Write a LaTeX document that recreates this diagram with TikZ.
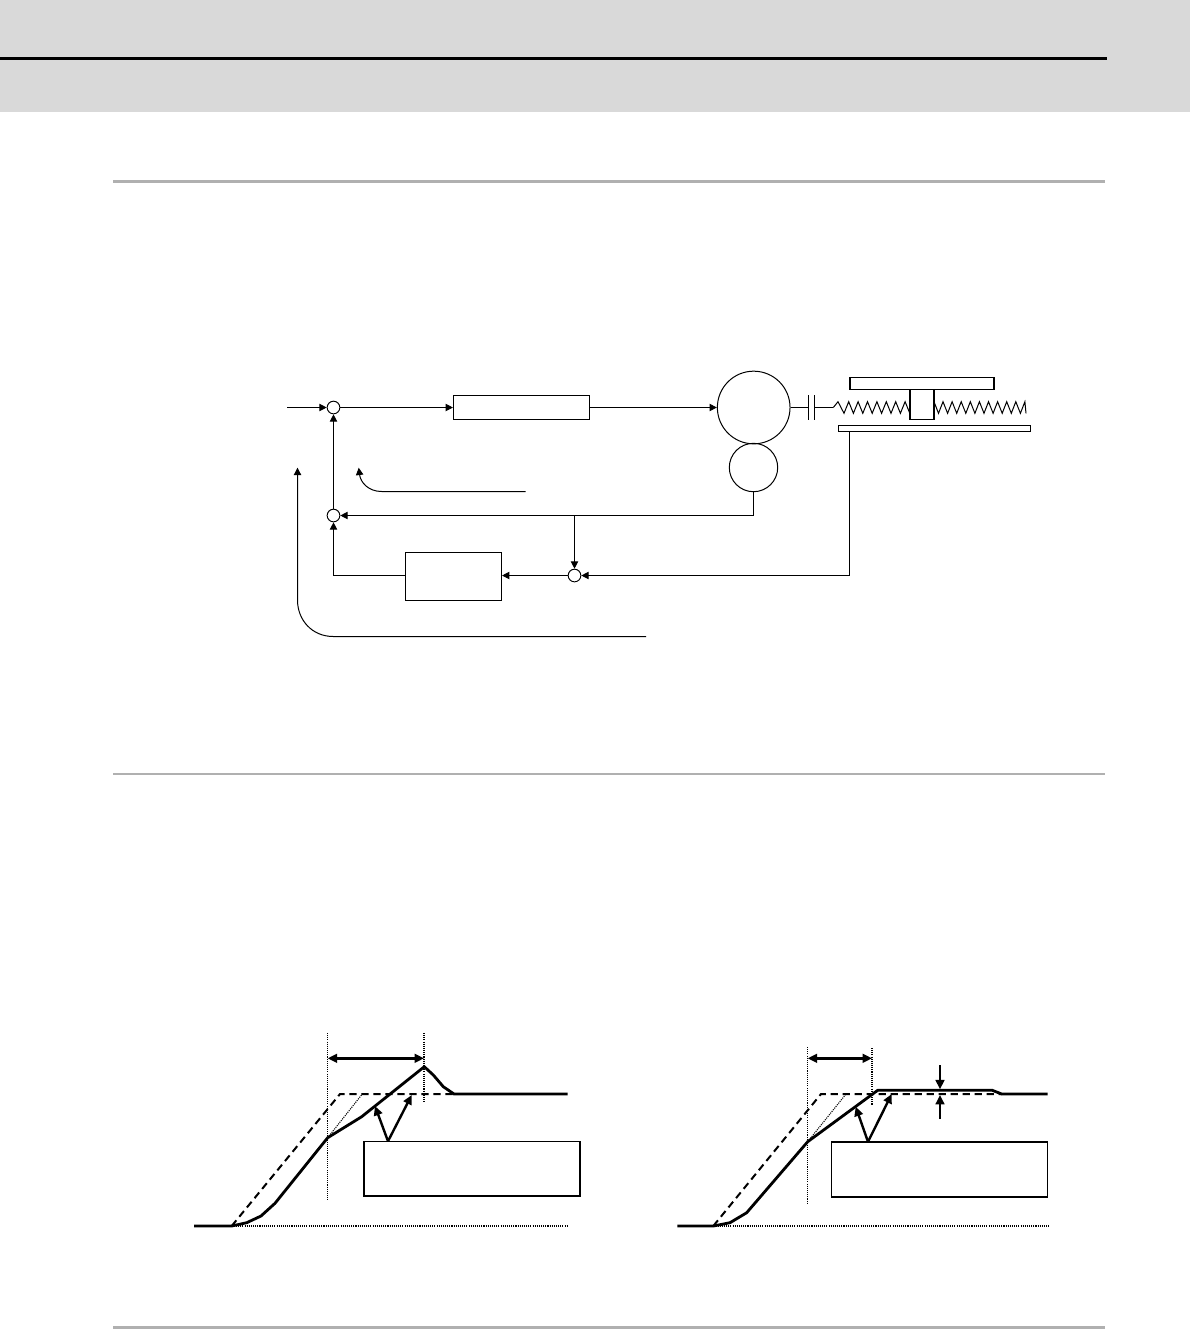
\documentclass[tikz,border=0pt]{standalone}
\usepackage{amsmath}
\usepackage{tikz}
\usetikzlibrary{arrows.meta}

\definecolor{bandgray}{RGB}{217,217,217}
\definecolor{rulegray}{RGB}{176,176,176}

\tikzset{
  sumpoint/.style={draw,circle,fill=white,inner sep=0pt,minimum size=9.5pt,line width=0.7pt},
  blockbox/.style={draw,rectangle,fill=white,inner sep=0pt,line width=0.8pt},
  notebox/.style={draw,rectangle,fill=white,inner sep=0pt,line width=1.2pt},
  signal/.style={line width=0.75pt,-{Triangle[length=5.5pt,width=5.5pt]}},
  plain/.style={line width=0.75pt},
  notch/.style={line width=1.8pt,-{Triangle[length=7pt,width=6.5pt]}},
  span/.style={line width=1.8pt,{Triangle[length=7pt,width=6.5pt]}-{Triangle[length=7pt,width=6.5pt]}},
  trace/.style={line width=2.1pt,line join=round},
  cmd/.style={line width=1.5pt,dash pattern=on 5.5pt off 3.5pt},
  guide/.style={line width=1.1pt,dash pattern=on 0.8pt off 0.8pt}
}

\begin{document}
\begin{tikzpicture}[x=0.75pt,y=0.75pt,yscale=-1]
\useasboundingbox (0,0) rectangle (1190,1329);

% Page band and rules
\fill[bandgray] (0,0) rectangle (1190,112);
\fill[black] (0,56.5) rectangle (1107,60);
\fill[rulegray] (113,180) rectangle (1105,183);
\fill[rulegray] (113,772.7) rectangle (1105,775);
\fill[rulegray] (113,1326) rectangle (1105,1329);

% Loop diagram nodes
\coordinate (input) at (287,407.5);
\node[sumpoint] (sumA) at (333.5,407.5) {};
\node[sumpoint] (sumB) at (333.5,515.5) {};
\node[sumpoint] (sumC) at (574.5,575.5) {};
\node[blockbox,minimum width=102pt,minimum height=18pt] (drive) at (521.5,407.5) {};
\node[blockbox,minimum width=72pt,minimum height=36pt] (comp) at (453.5,576.5) {};
\node[draw,circle,inner sep=0pt,minimum size=54.5pt,line width=0.75pt] (motor) at (753.7,407.5) {};
\node[draw,circle,inner sep=0pt,minimum size=36.3pt,line width=0.75pt] (encoder) at (753.5,467.5) {};
\coordinate (branch) at (574.5,515.5);
\coordinate (shaftL) at (808.5,407.5);
\coordinate (shaftR) at (814.5,407.5);
\coordinate (screw) at (833.3,407.5);
\coordinate (scale) at (849.5,431.3);

% Connectors
\draw[signal] (input) -- (sumA);
\draw[signal] (sumA) -- (drive);
\draw[signal] (drive) -- (motor);
\draw[signal] (sumB) -- (sumA);
\draw[signal] (encoder.south) |- (sumB);
\draw[signal] (branch) -- (sumC);
\draw[signal] (scale) |- (sumC);
\draw[signal] (sumC) -- (comp.east |- sumC);
\draw[signal] (comp.west |- sumC) -| (sumB);

% Coupling
\draw[plain] (motor) -- (shaftL);
\draw[plain] (shaftR) -- (screw);
\draw[plain] (808.5,395) -- (808.5,420);
\draw[plain] (814.5,395) -- (814.5,420);

% Ball screw
\draw[plain,line join=miter] (screw) -- (838,401.7)
  \foreach \n in {0,...,7} { -- ({844+\n*9.4},413.3) -- ({848.7+\n*9.4},401.7) } -- (910,411);
\draw[plain,line join=miter] (934,401.7)
  \foreach \n in {0,...,9} { -- ({938.5+\n*9.1},413.3) -- ({943+\n*9.1},401.7) } -- (1026,413.3);
\node[blockbox,line width=1.2pt,minimum width=18.3pt,minimum height=22.5pt] (nut) at (922,404.3) {};
\node[blockbox,line width=1.2pt,minimum width=108pt,minimum height=9pt] (table) at (922.2,383.3) {};
\node[blockbox,line width=0.7pt,minimum width=144pt,minimum height=4.2pt] (base) at (934.3,428.5) {};

% Curved leaders
\draw[signal] (525.7,491.5) -- (381.7,491.5) .. controls (368,491.5) and (360.5,482) .. (358.7,467.7);
\draw[signal] (646,636.5) -- (333.3,636.5) .. controls (312,636.5) and (297.5,620) .. (297.5,600) -- (297.5,467.7);

% Left response
\draw[guide] (327.5,1033) -- (327.5,1200);
\draw[guide] (424,1033) -- (424,1103);
\draw[guide] (231.7,1226) -- (566.7,1226);
\draw[line width=0.8pt,dash pattern=on 0.8pt off 0.8pt] (327.7,1137.7) -- (362.3,1094);
\draw[cmd] (231.7,1226) -- (340,1094) -- (454,1094);
\draw[trace] (194,1226) -- (231.7,1226) -- (246.7,1222.7) -- (261,1216) -- (275,1203.3) -- (327.7,1137.7) -- (361.7,1116.7) -- (424.3,1066.7) -- (433.3,1075) -- (443.3,1086.7) -- (454,1094) -- (567.7,1094);
\coordinate (spanAL) at (327.7,1058.3);
\coordinate (spanAR) at (424,1058.3);
\draw[span] (spanAL) -- (spanAR);
\node[notebox,minimum width=162.3pt,minimum height=40.8pt] (noteA) at (471.9,1168.8) {};
\coordinate (apexA) at (388,1141.2);
\coordinate (tipAa) at (375,1106);
\coordinate (tipAb) at (411.7,1095);
\draw[notch] (apexA) -- (tipAa);
\draw[notch] (apexA) -- (tipAb);

% Right response
\draw[guide] (807.5,1047) -- (807.5,1203);
\draw[guide] (872,1048) -- (872,1105);
\draw[guide] (713.3,1226) -- (1049,1226);
\draw[line width=0.8pt,dash pattern=on 0.8pt off 0.8pt] (807.7,1141.7) -- (846,1094);
\draw[cmd] (713.3,1226) -- (821,1094) -- (1001.7,1094);
\draw[trace] (677.3,1226) -- (713.3,1226) -- (730,1222.7) -- (746.7,1212.7) -- (807.7,1141.7) -- (877.7,1090.3) -- (992.3,1090.3) -- (1001.7,1094) -- (1047.7,1094);
\coordinate (spanBL) at (807.7,1058.3);
\coordinate (spanBR) at (872,1058.3);
\draw[span] (spanBL) -- (spanBR);
\node[notebox,minimum width=162pt,minimum height=41pt] (noteB) at (939.3,1169.6) {};
\coordinate (apexB) at (868,1141.8);
\coordinate (tipBa) at (855.7,1106.7);
\coordinate (tipBb) at (891.7,1094);
\draw[notch] (apexB) -- (tipBa);
\draw[notch] (apexB) -- (tipBb);
\coordinate (gapT) at (940,1065);
\coordinate (gapTe) at (940,1089.3);
\coordinate (gapB) at (940,1119);
\coordinate (gapBe) at (940,1095);
\draw[notch] (gapT) -- (gapTe);
\draw[notch] (gapB) -- (gapBe);

\end{tikzpicture}
\end{document}
